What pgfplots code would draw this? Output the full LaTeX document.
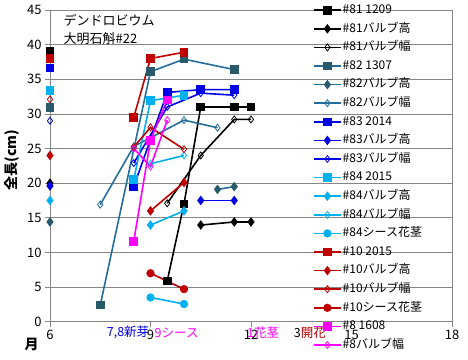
\documentclass[border=0pt]{standalone}
\usepackage{pgfplots}
\pgfplotsset{compat=1.18}
\usepackage{fontspec}
\setmainfont{Noto Sans CJK JP}
\definecolor{gridgray}{RGB}{134,134,134}
\definecolor{c82m}{RGB}{40,90,105}
\definecolor{c82l}{RGB}{35,110,155}
\definecolor{c83}{RGB}{0,0,230}
\definecolor{c84}{RGB}{0,176,240}
\definecolor{c10}{RGB}{192,0,0}
\definecolor{c8}{RGB}{255,0,255}
\begin{document}
\begin{tikzpicture}
\useasboundingbox (-50pt,-37.3pt) rectangle (418pt,321.7pt);
\begin{axis}[
  scale only axis, width=402pt, height=311.7pt,
  xmin=6, xmax=18, ymin=0, ymax=45,
  xtick={6,9,12,15,18}, ytick={0,5,...,45},
  ymajorgrids, grid style={gridgray, line width=0.8pt},
  axis line style={gridgray, line width=0.8pt},
  tick style={gridgray, line width=0.8pt},
  tick align=outside, major tick length=5pt, tick pos=left,
  ticklabel style={font=\fontsize{13}{15}\selectfont},
  /pgf/number format/assume math mode=true,
  unbounded coords=jump, clip=false,
  every axis plot/.append style={line width=1.6pt},
  legend cell align=left,
  legend image code/.code={\draw[mark repeat=2,mark phase=2,#1] plot coordinates {(0pt,0pt) (13.5pt,0pt) (27pt,0pt)};},
  legend style={at={(axis description cs:0.654,1.0298)}, anchor=north west, draw=none, fill=none,
    inner sep=0pt, row sep=0pt, font=\fontsize{12}{14}\selectfont,
    nodes={inner xsep=1pt, inner ysep=0pt, text height=12.6pt, text depth=6pt}},
]
% #81
\addplot[black, mark=square*, mark size=3.5pt] coordinates {(6,39) (7,nan) (9.5,5.9) (10,17.0) (10.5,31.0) (11.5,31.0) (12,31.0)};
\addlegendentry{\#81 1209}
\addplot[black, mark=diamond*, mark size=3.5pt] coordinates {(6,20.0) (7,nan) (10.5,13.95) (11.5,14.4) (12,14.4)};
\addlegendentry{\#81バルブ高}
\addplot[black, mark=diamond, mark size=3.5pt, mark options={fill=white, line width=0.8pt}] coordinates {(9.5,17.1) (10.5,24.0) (11.5,29.2) (12,29.2)};
\addlegendentry{\#81バルブ幅}
% #82
\addplot[c82l, mark=square*, mark size=3.5pt, mark options={c82m, fill=c82m}] coordinates {(6,30.9) (7,nan) (7.5,2.4) (9,36.1) (10,37.9) (11.5,36.4)};
\addlegendentry{\#82 1307}
\addplot[c82l, mark=diamond*, mark size=3.5pt, mark options={c82m, fill=c82m}] coordinates {(6,14.4) (7,nan) (11,19.1) (11.5,19.5)};
\addlegendentry{\#82バルブ高}
\addplot[c82l, mark=diamond, mark size=3.5pt, mark options={fill=white, line width=0.8pt}] coordinates {(7.5,16.9) (8.5,25.3) (10,29.1) (11,28.0)};
\addlegendentry{\#82バルブ幅}
% #83
\addplot[c83, mark=square*, mark size=3.5pt] coordinates {(6,36.6) (7,nan) (8.5,19.5) (9.5,33.1) (10.5,33.5) (11.5,33.5)};
\addlegendentry{\#83 2014}
\addplot[c83, mark=diamond*, mark size=3.5pt] coordinates {(6,19.6) (7,nan) (10.5,17.5) (11.5,17.5)};
\addlegendentry{\#83バルブ高}
\addplot[c83, mark=diamond, mark size=3.5pt, mark options={fill=white, line width=0.8pt}] coordinates {(6,29.0) (7,nan) (8.5,22.9) (9.5,31.0) (10.5,33.0) (11.5,32.7)};
\addlegendentry{\#83バルブ幅}
% #84
\addplot[c84, mark=square*, mark size=3.5pt] coordinates {(6,33.4) (7,nan) (8.5,20.5) (9,31.9) (10,32.7)};
\addlegendentry{\#84 2015}
\addplot[c84, mark=diamond*, mark size=3.5pt] coordinates {(6,17.5) (7,nan) (9,13.95) (10,16.0)};
\addlegendentry{\#84バルブ高}
\addplot[c84, mark=diamond, mark size=3.5pt, mark options={fill=white, line width=0.8pt}] coordinates {(9,22.8) (10,24.0)};
\addlegendentry{\#84バルブ幅}
\addplot[c84, mark=*, mark size=3.3pt] coordinates {(9,3.5) (10,2.55)};
\addlegendentry{\#84シース花茎}
% #10
\addplot[c10, mark=square*, mark size=3.5pt] coordinates {(6,38.0) (7,nan) (8.5,29.5) (9,38.0) (10,38.9)};
\addlegendentry{\#10 2015}
\addplot[c10, mark=diamond*, mark size=3.5pt] coordinates {(6,24.0) (7,nan) (9,16.0) (10,20.1)};
\addlegendentry{\#10バルブ高}
\addplot[c10, mark=diamond, mark size=3.5pt, mark options={fill=white, line width=0.8pt}] coordinates {(6,32.1) (7,nan) (8.5,25.2) (9,28.05) (10,24.9)};
\addlegendentry{\#10バルブ幅}
\addplot[c10, mark=*, mark size=3.3pt] coordinates {(9,7.0) (10,4.7)};
\addlegendentry{\#10シース花茎}
% #8
\addplot[c8, mark=square*, mark size=3.5pt] coordinates {(8.5,11.6) (9,26.2) (9.5,32.0)};
\addlegendentry{\#8 1608}
\addplot[c8, mark=diamond, mark size=3.5pt, mark options={fill=white, line width=0.8pt}] coordinates {(8.5,25.0) (9,22.4) (9.5,29.1)};
\addlegendentry{\#8バルブ幅}
% annotations
\node[anchor=west, font=\fontsize{13}{15}\selectfont] at (axis cs:6.3,43.5) {デンドロビウム};
\node[anchor=west, font=\fontsize{13}{15}\selectfont] at (axis cs:6.3,40.9) {大明石斛\#22};
\node[font=\bfseries\fontsize{14}{16}\selectfont] at (axis cs:5.45,-3.36) {月};
\node[rotate=90, font=\bfseries\fontsize{14}{16}\selectfont] at (axis cs:4.85,23.3) {全長(cm)};
\node[c83, font=\fontsize{12.5}{14}\selectfont] at (axis cs:8.33,-1.6) {7,8新芽};
\node[c8, font=\fontsize{12.5}{14}\selectfont] at (axis cs:9.78,-1.6) {9シース};
\node[c8, font=\fontsize{12.5}{14}\selectfont] at (axis cs:12.36,-1.6) {1花茎};
\node[c10, font=\fontsize{12.5}{14}\selectfont] at (axis cs:13.76,-1.6) {\textcolor{black}{3}開花};
\end{axis}
\end{tikzpicture}
\end{document}
